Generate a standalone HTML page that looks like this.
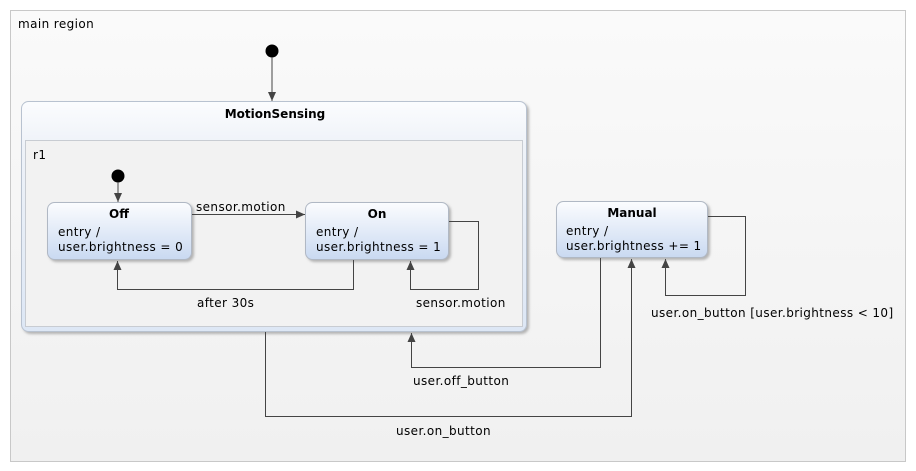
<!DOCTYPE html>
<html><head><meta charset="utf-8"><style>
html,body{margin:0;padding:0;background:#fff;}
svg{display:block;font-family:"DejaVu Sans","Liberation Sans",sans-serif;}
text{letter-spacing:0.4px;}
text.b{letter-spacing:0;}
</style></head><body>
<svg width="916" height="471" viewBox="0 0 916 471" xmlns="http://www.w3.org/2000/svg">
<defs>
<linearGradient id="st" x1="0" y1="0" x2="0" y2="1">
<stop offset="0" stop-color="#fbfcfe"/><stop offset="1" stop-color="#c9d9f1"/></linearGradient>
<linearGradient id="ms" x1="0" y1="0" x2="0" y2="1">
<stop offset="0" stop-color="#fbfcfe"/><stop offset="0.2" stop-color="#eef2f8"/><stop offset="1" stop-color="#dde7f5"/></linearGradient>
<linearGradient id="bg" x1="0" y1="0" x2="0" y2="1">
<stop offset="0" stop-color="#fafafa"/><stop offset="1" stop-color="#f0f0f0"/></linearGradient>
<marker id="a" markerWidth="10" markerHeight="10" refX="9" refY="4" orient="auto" markerUnits="userSpaceOnUse">
<path d="M0,0 L9,4 L0,8 z" fill="#444"/></marker>
<filter id="sh" x="-5%" y="-5%" width="115%" height="120%"><feDropShadow dx="2" dy="2" stdDeviation="1.2" flood-color="#888" flood-opacity="0.6"/></filter>
</defs>
<rect x="10.5" y="10.5" width="895" height="451" fill="url(#bg)" stroke="#c8c8c8"/>
<text x="18" y="28" font-size="12" fill="#000">main region</text>
<circle cx="272" cy="51" r="6.5" fill="#000"/>
<line x1="272" y1="57" x2="272" y2="101" stroke="#444" marker-end="url(#a)"/>
<rect x="21.5" y="101.5" width="505" height="230" rx="7" fill="url(#ms)" stroke="#b8c2d0" filter="url(#sh)"/>
<text class="b" x="275" y="118" font-size="12" font-weight="bold" text-anchor="middle">MotionSensing</text>
<rect x="25.5" y="140.5" width="497" height="186" fill="#f2f2f2" stroke="#c8ccd2"/>
<text x="33" y="159" font-size="12">r1</text>
<circle cx="118" cy="176" r="6.5" fill="#000"/>
<line x1="118" y1="182" x2="118" y2="202" stroke="#444" marker-end="url(#a)"/>
<rect x="47.5" y="202.5" width="144" height="57" rx="7" fill="url(#st)" stroke="#b0b8c4" filter="url(#sh)"/>
<text class="b" x="119" y="218" font-size="12" font-weight="bold" text-anchor="middle">Off</text>
<text x="58" y="236" font-size="12">entry /</text>
<text x="58" y="251" font-size="12">user.brightness = 0</text>
<rect x="305.5" y="202.5" width="143" height="57" rx="7" fill="url(#st)" stroke="#b0b8c4" filter="url(#sh)"/>
<text class="b" x="377" y="218" font-size="12" font-weight="bold" text-anchor="middle">On</text>
<text x="316" y="236" font-size="12">entry /</text>
<text x="316" y="251" font-size="12">user.brightness = 1</text>
<line x1="192" y1="214.5" x2="305" y2="214.5" stroke="#444" marker-end="url(#a)"/>
<text x="196" y="211" font-size="12">sensor.motion</text>
<polyline points="353.5,260 353.5,289.5 117.5,289.5 117.5,261" fill="none" stroke="#444" marker-end="url(#a)"/>
<text x="197" y="307" font-size="12">after 30s</text>
<polyline points="449,221.5 478.5,221.5 478.5,289.5 410.5,289.5 410.5,261" fill="none" stroke="#444" marker-end="url(#a)"/>
<text x="416" y="307" font-size="12">sensor.motion</text>
<rect x="556.5" y="201.5" width="151" height="56" rx="7" fill="url(#st)" stroke="#b0b8c4" filter="url(#sh)"/>
<text class="b" x="632" y="217" font-size="12" font-weight="bold" text-anchor="middle">Manual</text>
<text x="566" y="235" font-size="12">entry /</text>
<text x="566" y="250" font-size="12">user.brightness += 1</text>
<polyline points="708,216.5 745.5,216.5 745.5,295.5 665.5,295.5 665.5,259" fill="none" stroke="#444" marker-end="url(#a)"/>
<text x="651" y="317" font-size="12">user.on_button [user.brightness &lt; 10]</text>
<polyline points="600.5,258 600.5,367.5 411.5,367.5 411.5,333" fill="none" stroke="#444" marker-end="url(#a)"/>
<text x="413" y="385" font-size="12">user.off_button</text>
<polyline points="265.5,332 265.5,416.5 631.5,416.5 631.5,259" fill="none" stroke="#444" marker-end="url(#a)"/>
<text x="396" y="435" font-size="12">user.on_button</text>
</svg>
</body></html>
